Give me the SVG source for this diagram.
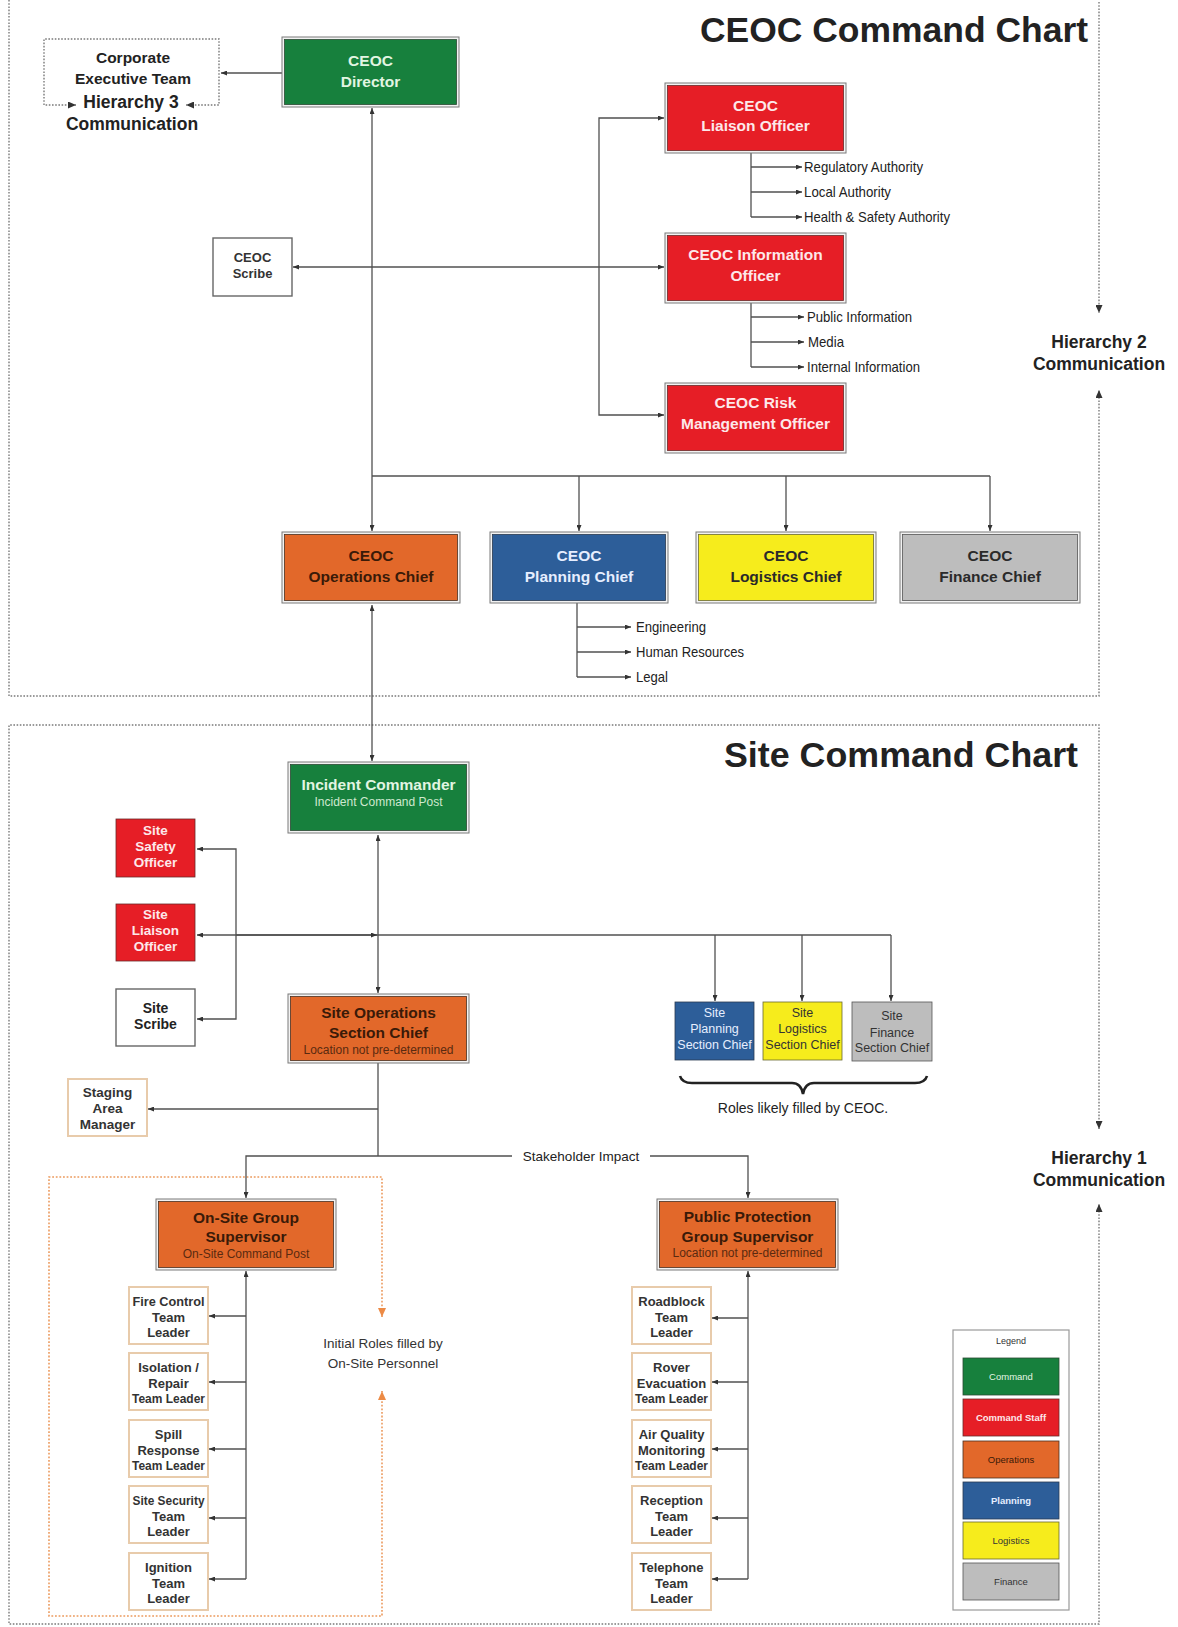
<svg xmlns="http://www.w3.org/2000/svg" width="1178" height="1627" viewBox="0 0 1178 1627">
<style>
text{font-family:"Liberation Sans",Arial,sans-serif}
.b{font-weight:bold}
.t15{font-size:15.5px}
.t13{font-size:13.5px}
.tm{font-size:13px}
.sub{font-size:12px}
.lt{fill:#e2f5e2}
.pk{fill:#fde8ea}
.dk{fill:#3a1a08}
.bl{fill:#e6eeff}
.gr{fill:#2a2a2a}
.ring{fill:#f2f2f2;stroke:#7a7a7a;stroke-width:1}
.cg{fill:#17803d;stroke:#2c4a33;stroke-width:.8}
.cr{fill:#e61e26;stroke:#6a2a2a;stroke-width:.8}
.co{fill:#e2682a;stroke:#4a3020;stroke-width:.8}
.cb{fill:#2d5e99;stroke:#2a3a50;stroke-width:.8}
.cy{fill:#f6ec1c;stroke:#6a6a30;stroke-width:.8}
.cs{fill:#bdbdbd;stroke:#555;stroke-width:.8}
.white{fill:#fff;stroke:#666;stroke-width:1.4}
.team{fill:#fff;stroke:#e8cbab;stroke-width:2}
.ln{fill:none;stroke:#505050;stroke-width:1.3}
.dot{fill:none;stroke:#7a7a7a;stroke-width:1.4;stroke-dasharray:1.6 1.6}
.odot{fill:none;stroke:#ec9a5e;stroke-width:1.6;stroke-dasharray:1.8 1.8}
.item{font-size:15px;fill:#222}
</style>
<defs>
<marker id="a" viewBox="0 0 6 5" refX="6" refY="2.5" markerWidth="6" markerHeight="5" markerUnits="userSpaceOnUse" orient="auto-start-reverse"><path d="M0,0 L6,2.5 L0,5 z" fill="#333"/></marker>
<marker id="ad" viewBox="0 0 8 7" refX="8" refY="3.5" markerWidth="8" markerHeight="7" markerUnits="userSpaceOnUse" orient="auto-start-reverse"><path d="M0,0 L8,3.5 L0,7 z" fill="#333"/></marker>
<marker id="ao" viewBox="0 0 9 8" refX="9" refY="4" markerWidth="9" markerHeight="8" markerUnits="userSpaceOnUse" orient="auto-start-reverse"><path d="M0,0 L9,4 L0,8 z" fill="#ec8a45"/></marker>
</defs>
<rect width="1178" height="1627" fill="#fff"/>

<!-- section frames -->
<g id="frames">
<path class="dot" d="M9,0 V696 H1099 V390" marker-end="url(#ad)"/>
<path class="dot" d="M1099,2 V313" marker-end="url(#ad)"/>
<path class="dot" d="M1099,1129 V725 H9 V1624 H1099 V1204" marker-start="url(#ad)" marker-end="url(#ad)"/>
<path class="odot" d="M382,1317 V1177 H49 V1616 H382 V1391" marker-start="url(#ao)" marker-end="url(#ao)"/>
<path class="dot" d="M76,105 H44 V39 H219 V105 H186" marker-start="url(#ad)" marker-end="url(#ad)"/>
</g>

<g id="titles">
<text x="1088" y="42" text-anchor="end" class="b" font-size="35" fill="#222" textLength="388" lengthAdjust="spacingAndGlyphs">CEOC Command Chart</text>
<text x="1078" y="767" text-anchor="end" class="b" font-size="35" fill="#222" textLength="354" lengthAdjust="spacingAndGlyphs">Site Command Chart</text>
<text x="1099" y="348" text-anchor="middle" class="b" font-size="17.5" fill="#222">Hierarchy 2</text>
<text x="1099" y="370" text-anchor="middle" class="b" font-size="17.5" fill="#222">Communication</text>
<text x="1099" y="1164" text-anchor="middle" class="b" font-size="17.5" fill="#222">Hierarchy 1</text>
<text x="1099" y="1186" text-anchor="middle" class="b" font-size="17.5" fill="#222">Communication</text>
</g>

<!-- connectors -->
<g id="connectors">
<line class="ln" x1="282" y1="73" x2="221" y2="73" marker-end="url(#a)"/>
<line class="ln" x1="372" y1="476" x2="372" y2="108" marker-end="url(#a)"/>
<line class="ln" x1="372" y1="476" x2="372" y2="531" marker-end="url(#a)"/>
<path class="ln" d="M372,476 H990"/>
<line class="ln" x1="579" y1="476" x2="579" y2="531" marker-end="url(#a)"/>
<line class="ln" x1="786" y1="476" x2="786" y2="531" marker-end="url(#a)"/>
<line class="ln" x1="990" y1="476" x2="990" y2="531" marker-end="url(#a)"/>
<line class="ln" x1="293" y1="267" x2="664" y2="267" marker-start="url(#a)" marker-end="url(#a)"/>
<path class="ln" d="M664,118 H599 V415 H664" marker-start="url(#a)" marker-end="url(#a)"/>
<path class="ln" d="M751,153 V217"/>
<line class="ln" x1="751" y1="167" x2="802" y2="167" marker-end="url(#a)"/>
<line class="ln" x1="751" y1="192" x2="802" y2="192" marker-end="url(#a)"/>
<line class="ln" x1="751" y1="217" x2="802" y2="217" marker-end="url(#a)"/>
<path class="ln" d="M751,303 V367"/>
<line class="ln" x1="751" y1="317" x2="804" y2="317" marker-end="url(#a)"/>
<line class="ln" x1="751" y1="342" x2="804" y2="342" marker-end="url(#a)"/>
<line class="ln" x1="751" y1="367" x2="804" y2="367" marker-end="url(#a)"/>
<path class="ln" d="M577,603 V677"/>
<line class="ln" x1="577" y1="627" x2="631" y2="627" marker-end="url(#a)"/>
<line class="ln" x1="577" y1="652" x2="631" y2="652" marker-end="url(#a)"/>
<line class="ln" x1="577" y1="677" x2="631" y2="677" marker-end="url(#a)"/>
<line class="ln" x1="372" y1="605" x2="372" y2="761" marker-start="url(#a)" marker-end="url(#a)"/>
<line class="ln" x1="378" y1="835" x2="378" y2="993" marker-start="url(#a)" marker-end="url(#a)"/>
<line class="ln" x1="197" y1="935" x2="891" y2="935" marker-start="url(#a)"/>
<line class="ln" x1="236" y1="935" x2="377" y2="935" marker-end="url(#a)"/>
<path class="ln" d="M197,849 H236 V1019 H197" marker-start="url(#a)" marker-end="url(#a)"/>
<line class="ln" x1="715" y1="935" x2="715" y2="1001" marker-end="url(#a)"/>
<line class="ln" x1="802" y1="935" x2="802" y2="1001" marker-end="url(#a)"/>
<line class="ln" x1="891" y1="935" x2="891" y2="1001" marker-end="url(#a)"/>
<path class="ln" d="M378,1063 V1156"/>
<line class="ln" x1="378" y1="1109" x2="148" y2="1109" marker-end="url(#a)"/>
<path class="ln" d="M512,1156 H246 V1198" marker-end="url(#a)"/>
<path class="ln" d="M650,1156 H748 V1198" marker-end="url(#a)"/>
<line class="ln" x1="246" y1="1579" x2="246" y2="1271" marker-end="url(#a)"/>
<line class="ln" x1="246" y1="1316" x2="209" y2="1316" marker-end="url(#a)"/>
<line class="ln" x1="246" y1="1382" x2="209" y2="1382" marker-end="url(#a)"/>
<line class="ln" x1="246" y1="1449" x2="209" y2="1449" marker-end="url(#a)"/>
<line class="ln" x1="246" y1="1518" x2="209" y2="1518" marker-end="url(#a)"/>
<line class="ln" x1="246" y1="1579" x2="209" y2="1579" marker-end="url(#a)"/>
<line class="ln" x1="748" y1="1579" x2="748" y2="1271" marker-end="url(#a)"/>
<line class="ln" x1="748" y1="1318" x2="712" y2="1318" marker-end="url(#a)"/>
<line class="ln" x1="748" y1="1382" x2="712" y2="1382" marker-end="url(#a)"/>
<line class="ln" x1="748" y1="1449" x2="712" y2="1449" marker-end="url(#a)"/>
<line class="ln" x1="748" y1="1518" x2="712" y2="1518" marker-end="url(#a)"/>
<line class="ln" x1="748" y1="1579" x2="712" y2="1579" marker-end="url(#a)"/>
<path d="M680,1076 Q682,1083 692,1083 H792 Q801,1083 803,1094 Q805,1083 814,1083 H915 Q925,1083 927,1076" fill="none" stroke="#222" stroke-width="2.6"/>
</g>

<!-- connector labels -->
<g id="labels">
<text x="804" y="172" class="item" textLength="119" lengthAdjust="spacingAndGlyphs">Regulatory Authority</text>
<text x="804" y="197" class="item" textLength="87" lengthAdjust="spacingAndGlyphs">Local Authority</text>
<text x="804" y="222" class="item" textLength="146" lengthAdjust="spacingAndGlyphs">Health &amp; Safety Authority</text>
<text x="807" y="322" class="item" textLength="105" lengthAdjust="spacingAndGlyphs">Public Information</text>
<text x="808" y="347" class="item" textLength="36" lengthAdjust="spacingAndGlyphs">Media</text>
<text x="807" y="372" class="item" textLength="113" lengthAdjust="spacingAndGlyphs">Internal Information</text>
<text x="636" y="632" class="item" textLength="70" lengthAdjust="spacingAndGlyphs">Engineering</text>
<text x="636" y="657" class="item" textLength="108" lengthAdjust="spacingAndGlyphs">Human Resources</text>
<text x="636" y="682" class="item" textLength="32" lengthAdjust="spacingAndGlyphs">Legal</text>
<text x="581" y="1161" text-anchor="middle" font-size="13.5" fill="#222">Stakeholder Impact</text>
<text x="803" y="1113" text-anchor="middle" font-size="14" fill="#222">Roles likely filled by CEOC.</text>
<text x="383" y="1348" text-anchor="middle" font-size="13.5" fill="#333">Initial Roles filled by</text>
<text x="383" y="1368" text-anchor="middle" font-size="13.5" fill="#333">On-Site Personnel</text>
</g>

<g id="corporate" text-anchor="middle" class="b" fill="#222">
<text x="133" y="63" font-size="15.5">Corporate</text>
<text x="133" y="84" font-size="15.5">Executive Team</text>
<text x="131" y="108" font-size="17.5">Hierarchy 3</text>
<text x="132" y="130" font-size="17.5">Communication</text>
</g>

<g id="ceoc-director"><rect class="ring" x="282" y="37" width="177" height="70"/><rect class="cg" x="284.5" y="39.5" width="172" height="65"/>
<text x="370.5" y="66" text-anchor="middle" class="b t15 lt">CEOC</text><text x="370.5" y="87" text-anchor="middle" class="b t15 lt">Director</text></g>

<g id="ceoc-scribe"><rect class="white" x="213" y="238" width="79" height="58"/>
<text x="252.5" y="262" text-anchor="middle" class="b" font-size="13" fill="#333">CEOC</text><text x="252.5" y="278" text-anchor="middle" class="b" font-size="13" fill="#333">Scribe</text></g>

<g id="ceoc-liaison"><rect class="ring" x="665" y="83" width="181" height="70"/><rect class="cr" x="667.5" y="85.5" width="176" height="65"/>
<text x="755.5" y="111" text-anchor="middle" class="b t15 pk">CEOC</text><text x="755.5" y="131" text-anchor="middle" class="b t15 pk">Liaison Officer</text></g>

<g id="ceoc-information"><rect class="ring" x="665" y="233" width="181" height="70"/><rect class="cr" x="667.5" y="235.5" width="176" height="65"/>
<text x="755.5" y="260" text-anchor="middle" class="b t15 pk">CEOC Information</text><text x="755.5" y="281" text-anchor="middle" class="b t15 pk">Officer</text></g>

<g id="ceoc-risk"><rect class="ring" x="665" y="383" width="181" height="70"/><rect class="cr" x="667.5" y="385.5" width="176" height="65"/>
<text x="755.5" y="408" text-anchor="middle" class="b t15 pk">CEOC Risk</text><text x="755.5" y="429" text-anchor="middle" class="b t15 pk">Management Officer</text></g>

<g id="ceoc-operations"><rect class="ring" x="282" y="532" width="178" height="71"/><rect class="co" x="284.5" y="534.5" width="173" height="66"/>
<text x="371" y="561" text-anchor="middle" class="b t15 dk">CEOC</text><text x="371" y="582" text-anchor="middle" class="b t15 dk">Operations Chief</text></g>

<g id="ceoc-planning"><rect class="ring" x="490" y="532" width="178" height="71"/><rect class="cb" x="492.5" y="534.5" width="173" height="66"/>
<text x="579" y="561" text-anchor="middle" class="b t15 bl">CEOC</text><text x="579" y="582" text-anchor="middle" class="b t15 bl">Planning Chief</text></g>

<g id="ceoc-logistics"><rect class="ring" x="696" y="532" width="180" height="71"/><rect class="cy" x="698.5" y="534.5" width="175" height="66"/>
<text x="786" y="561" text-anchor="middle" class="b t15 gr">CEOC</text><text x="786" y="582" text-anchor="middle" class="b t15 gr">Logistics Chief</text></g>

<g id="ceoc-finance"><rect class="ring" x="900" y="532" width="180" height="71"/><rect class="cs" x="902.5" y="534.5" width="175" height="66"/>
<text x="990" y="561" text-anchor="middle" class="b t15 gr">CEOC</text><text x="990" y="582" text-anchor="middle" class="b t15 gr">Finance Chief</text></g>

<g id="incident-commander"><rect class="ring" x="288" y="762" width="181" height="71"/><rect class="cg" x="290.5" y="764.5" width="176" height="66"/>
<text x="378.5" y="790" text-anchor="middle" class="b t15 lt">Incident Commander</text><text x="378.5" y="806" text-anchor="middle" class="sub" fill="#cfe8cf">Incident Command Post</text></g>

<g id="site-safety"><rect class="cr" x="116" y="819" width="79" height="58"/>
<text x="155.5" y="835" text-anchor="middle" class="b t13 pk">Site</text><text x="155.5" y="851" text-anchor="middle" class="b t13 pk">Safety</text><text x="155.5" y="867" text-anchor="middle" class="b t13 pk">Officer</text></g>

<g id="site-liaison"><rect class="cr" x="116" y="904" width="79" height="57"/>
<text x="155.5" y="919" text-anchor="middle" class="b t13 pk">Site</text><text x="155.5" y="935" text-anchor="middle" class="b t13 pk">Liaison</text><text x="155.5" y="951" text-anchor="middle" class="b t13 pk">Officer</text></g>

<g id="site-scribe"><rect class="white" x="116" y="989" width="79" height="57"/>
<text x="155.5" y="1013" text-anchor="middle" class="b" font-size="14" fill="#222">Site</text><text x="155.5" y="1029" text-anchor="middle" class="b" font-size="14" fill="#222">Scribe</text></g>

<g id="site-operations"><rect class="ring" x="288" y="994" width="181" height="69"/><rect class="co" x="290.5" y="996.5" width="176" height="64"/>
<text x="378.5" y="1018" text-anchor="middle" class="b t15 dk">Site Operations</text><text x="378.5" y="1038" text-anchor="middle" class="b t15 dk">Section Chief</text><text x="378.5" y="1054" text-anchor="middle" class="sub" fill="#5a2a10">Location not pre-determined</text></g>

<g id="site-planning"><rect class="cb" x="675" y="1002" width="79" height="58"/>
<text x="714.5" y="1017" text-anchor="middle" font-size="12.5" class="bl">Site</text><text x="714.5" y="1033" text-anchor="middle" font-size="12.5" class="bl">Planning</text><text x="714.5" y="1049" text-anchor="middle" font-size="12.5" class="bl">Section Chief</text></g>

<g id="site-logistics"><rect class="cy" x="763" y="1002" width="79" height="58"/>
<text x="802.5" y="1017" text-anchor="middle" font-size="12.5" fill="#333">Site</text><text x="802.5" y="1033" text-anchor="middle" font-size="12.5" fill="#333">Logistics</text><text x="802.5" y="1049" text-anchor="middle" font-size="12.5" fill="#333">Section Chief</text></g>

<g id="site-finance"><rect class="cs" x="852" y="1002" width="80" height="59"/>
<text x="892" y="1020" text-anchor="middle" font-size="12.5" fill="#333">Site</text><text x="892" y="1037" text-anchor="middle" font-size="12.5" fill="#333">Finance</text><text x="892" y="1052" text-anchor="middle" font-size="12.5" fill="#333">Section Chief</text></g>

<g id="staging"><rect class="team" x="68" y="1079" width="79" height="57"/>
<text x="107.5" y="1097" text-anchor="middle" class="b t13" fill="#333">Staging</text><text x="107.5" y="1113" text-anchor="middle" class="b t13" fill="#333">Area</text><text x="107.5" y="1129" text-anchor="middle" class="b t13" fill="#333">Manager</text></g>

<g id="onsite-supervisor"><rect class="ring" x="156" y="1199" width="180" height="71"/><rect class="co" x="158.5" y="1201.5" width="175" height="66"/>
<text x="246" y="1223" text-anchor="middle" class="b t15 dk">On-Site Group</text><text x="246" y="1242" text-anchor="middle" class="b t15 dk">Supervisor</text><text x="246" y="1258" text-anchor="middle" class="sub" fill="#5a2a10">On-Site Command Post</text></g>

<g id="public-supervisor"><rect class="ring" x="657" y="1199" width="181" height="71"/><rect class="co" x="659.5" y="1201.5" width="176" height="66"/>
<text x="747.5" y="1222" text-anchor="middle" class="b t15 dk">Public Protection</text><text x="747.5" y="1242" text-anchor="middle" class="b t15 dk">Group Supervisor</text><text x="747.5" y="1257" text-anchor="middle" class="sub" fill="#5a2a10">Location not pre-determined</text></g>

<g class="b tm" fill="#333" text-anchor="middle">
<g id="fire-control"><rect class="team" x="129" y="1287" width="79" height="57"/><text x="168.5" y="1306" textLength="72" lengthAdjust="spacingAndGlyphs">Fire Control</text><text x="168.5" y="1322">Team</text><text x="168.5" y="1337">Leader</text></g>
<g id="isolation"><rect class="team" x="129" y="1353" width="79" height="57"/><text x="168.5" y="1372">Isolation /</text><text x="168.5" y="1388">Repair</text><text x="168.5" y="1403" textLength="73" lengthAdjust="spacingAndGlyphs">Team Leader</text></g>
<g id="spill"><rect class="team" x="129" y="1420" width="79" height="57"/><text x="168.5" y="1439">Spill</text><text x="168.5" y="1455">Response</text><text x="168.5" y="1470" textLength="73" lengthAdjust="spacingAndGlyphs">Team Leader</text></g>
<g id="security"><rect class="team" x="129" y="1486" width="79" height="57"/><text x="168.5" y="1505" textLength="72" lengthAdjust="spacingAndGlyphs">Site Security</text><text x="168.5" y="1521">Team</text><text x="168.5" y="1536">Leader</text></g>
<g id="ignition"><rect class="team" x="129" y="1553" width="79" height="57"/><text x="168.5" y="1572">Ignition</text><text x="168.5" y="1588">Team</text><text x="168.5" y="1603">Leader</text></g>
<g id="roadblock"><rect class="team" x="632" y="1287" width="79" height="57"/><text x="671.5" y="1306">Roadblock</text><text x="671.5" y="1322">Team</text><text x="671.5" y="1337">Leader</text></g>
<g id="rover"><rect class="team" x="632" y="1353" width="79" height="57"/><text x="671.5" y="1372">Rover</text><text x="671.5" y="1388">Evacuation</text><text x="671.5" y="1403" textLength="73" lengthAdjust="spacingAndGlyphs">Team Leader</text></g>
<g id="air-quality"><rect class="team" x="632" y="1420" width="79" height="57"/><text x="671.5" y="1439">Air Quality</text><text x="671.5" y="1455">Monitoring</text><text x="671.5" y="1470" textLength="73" lengthAdjust="spacingAndGlyphs">Team Leader</text></g>
<g id="reception"><rect class="team" x="632" y="1486" width="79" height="57"/><text x="671.5" y="1505">Reception</text><text x="671.5" y="1521">Team</text><text x="671.5" y="1536">Leader</text></g>
<g id="telephone"><rect class="team" x="632" y="1553" width="79" height="57"/><text x="671.5" y="1572">Telephone</text><text x="671.5" y="1588">Team</text><text x="671.5" y="1603">Leader</text></g>
</g>

<g id="legend" text-anchor="middle" font-size="9.5">
<rect x="953" y="1330" width="116" height="280" fill="#fff" stroke="#9a9a9a" stroke-width="1.2"/>
<text x="1011" y="1344" font-size="9" fill="#333">Legend</text>
<rect class="cg" x="963" y="1358" width="96" height="37"/><text x="1011" y="1380" fill="#e2f5e2">Command</text>
<rect class="cr" x="963" y="1399" width="96" height="37"/><text x="1011" y="1421" class="b" fill="#fde8ea">Command Staff</text>
<rect class="co" x="963" y="1441" width="96" height="37"/><text x="1011" y="1463" fill="#3a1a08">Operations</text>
<rect class="cb" x="963" y="1482" width="96" height="37"/><text x="1011" y="1504" class="b" fill="#e6eeff">Planning</text>
<rect class="cy" x="963" y="1522" width="96" height="37"/><text x="1011" y="1544" fill="#333">Logistics</text>
<rect class="cs" x="963" y="1563" width="96" height="37"/><text x="1011" y="1585" fill="#333">Finance</text>
</g>
</svg>
